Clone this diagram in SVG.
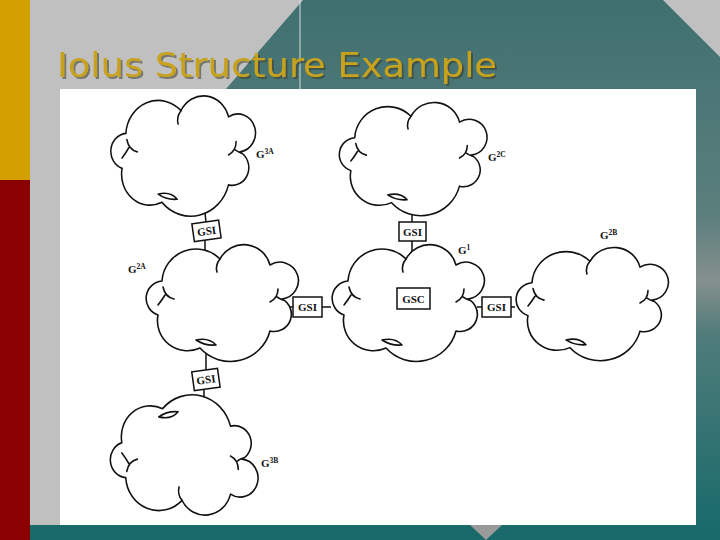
<svg xmlns="http://www.w3.org/2000/svg" xmlns:xlink="http://www.w3.org/1999/xlink" width="720" height="540" viewBox="0 0 720 540">
<style>
.cl{fill:none;stroke:#111;stroke-width:1.6;stroke-linecap:round;stroke-linejoin:round}
.bx{fill:#fff;stroke:#111;stroke-width:1.5}
.bt{font-family:"Liberation Serif",serif;font-weight:bold;font-size:11px;fill:#111;text-anchor:middle}
.lb{font-family:"Liberation Serif",serif;font-weight:bold;font-size:11px;fill:#111}
.sp{font-size:7.5px}
.cn{stroke:#111;stroke-width:1.5;fill:none}
</style>
<defs>
<linearGradient id="teal" x1="0" y1="0" x2="0" y2="1">
<stop offset="0" stop-color="#3f7070"/>
<stop offset="0.4" stop-color="#5b7f7d"/>
<stop offset="0.52" stop-color="#858f8d"/>
<stop offset="0.62" stop-color="#4f7c7a"/>
<stop offset="1" stop-color="#17696a"/>
</linearGradient>
<filter id="shadow" x="-5%" y="-20%" width="110%" height="150%">
<feDropShadow dx="2" dy="2" stdDeviation="0.6" flood-color="#3a3a2a" flood-opacity="0.55"/>
</filter>
<g id="cloud">
<path class="cl" d="M -62,12 A 17.5 17.5 0 0 1 -58,-22 A 34 34 0 0 1 0,-44 A 27 27 0 0 1 50,-38 A 18.5 18.5 0 1 1 62,-4 A 17.2 17.2 0 0 1 50,28 A 41 41 0 0 1 -20,45 A 30 30 0 0 1 -62,12 Z"/>
<path class="cl" d="M -57,-16 Q -55,-6 -46,-4 M -55,-8 Q -58,-3 -62,2"/>
<path class="cl" d="M 0,-44 Q -5,-38 -3,-31"/>
<path class="cl" d="M 58,-14 Q 58,-5 50,-1 M 57,-6 Q 60,-4 63,-3"/>
<path class="cl" d="M -24,37 Q -11,34 -4,42 Q -15,43 -24,37 Z"/>
</g>
</defs>
<!-- background -->
<rect x="0" y="0" width="720" height="540" fill="#c0c0c0"/>
<polygon points="303,0 663,0 720,57 720,540 30,540 30,525 60,525 60,281" fill="url(#teal)"/>
<line x1="300" y1="0" x2="300" y2="92" stroke="#d8dede" stroke-width="1"/>
<rect x="0" y="0" width="30" height="180" fill="#d4a000"/>
<rect x="0" y="180" width="30" height="360" fill="#8b0000"/>
<text x="57" y="77" font-family="'DejaVu Sans Condensed','DejaVu Sans',sans-serif" font-size="33" fill="#c9a21e" textLength="440" lengthAdjust="spacingAndGlyphs" filter="url(#shadow)">Iolus Structure Example</text>
<rect x="60" y="89" width="636" height="436" fill="#ffffff"/>
<polygon points="470,525 502,525 486,540" fill="#9a9a9a"/>

<!-- connectors -->
<g id="connectors">
<line class="cn" x1="205" y1="213" x2="206" y2="222"/>
<line class="cn" x1="205" y1="240" x2="205" y2="251"/>
<line class="cn" x1="412" y1="214" x2="412" y2="222"/>
<line class="cn" x1="412" y1="241" x2="412" y2="251"/>
<line class="cn" x1="290" y1="307" x2="293" y2="307"/>
<line class="cn" x1="322" y1="307" x2="331" y2="307"/>
<line class="cn" x1="477" y1="307" x2="482" y2="307"/>
<line class="cn" x1="511" y1="307" x2="515" y2="307"/>
<line class="cn" x1="206" y1="353" x2="206" y2="370"/>
<line class="cn" x1="204" y1="389" x2="204" y2="397"/>
</g>

<!-- clouds -->
<g id="G3A"><use xlink:href="#cloud" transform="translate(181,156) scale(0.95,1.03)"/>
<text class="lb" x="256" y="158">G<tspan class="sp" dy="-4">3A</tspan></text></g>
<g id="G2C"><use xlink:href="#cloud" transform="translate(411,159) scale(0.97,0.97)"/>
<text class="lb" x="488" y="161">G<tspan class="sp" dy="-4">2C</tspan></text></g>
<g id="G2A"><use xlink:href="#cloud" transform="translate(220,303)"/>
<text class="lb" x="128" y="273">G<tspan class="sp" dy="-4">2A</tspan></text></g>
<g id="G1"><use xlink:href="#cloud" transform="translate(406,303)"/>
<text class="lb" x="458" y="254">G<tspan class="sp" dy="-4">1</tspan></text></g>
<g id="G2B"><use xlink:href="#cloud" transform="translate(590,304) scale(1,0.97)"/>
<text class="lb" x="600" y="239">G<tspan class="sp" dy="-4">2B</tspan></text></g>
<g id="G3B"><use xlink:href="#cloud" transform="translate(182,455) scale(0.97,-1.03)"/>
<text class="lb" x="261" y="467">G<tspan class="sp" dy="-4">3B</tspan></text></g>

<!-- boxes -->
<g id="GSI-3A-2A" transform="rotate(-8 206 231)"><rect class="bx" x="193" y="222" width="27" height="18"/><text class="bt" x="206.5" y="235">GSI</text></g>
<g id="GSI-2C-1"><rect class="bx" x="399" y="222" width="27" height="19"/><text class="bt" x="412.5" y="235.5">GSI</text></g>
<g id="GSI-2A-1"><rect class="bx" x="293" y="297" width="29" height="20"/><text class="bt" x="307.5" y="311">GSI</text></g>
<g id="GSC"><rect class="bx" x="397" y="288" width="33" height="21"/><text class="bt" x="413.5" y="302.5" font-size="11.5">GSC</text></g>
<g id="GSI-1-2B"><rect class="bx" x="482" y="297" width="29" height="20"/><text class="bt" x="496.5" y="311">GSI</text></g>
<g id="GSI-2A-3B" transform="rotate(-8 206 380)"><rect class="bx" x="193" y="370" width="26" height="19"/><text class="bt" x="206" y="383.5">GSI</text></g>
</svg>
